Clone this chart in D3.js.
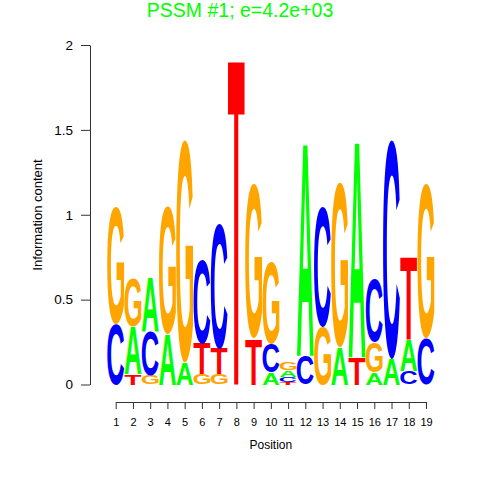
<!DOCTYPE html>
<meta charset="utf-8">
<head>
    <script src="https://d3js.org/d3.v7.min.js"></script>  <!-- D3 -->
    <style>
        body { margin: 0; background: #fff; }
    </style>
</head>
<body>
    <div id="graph"></div>
</body>

<script>
    // data: information content of each base at each position
    var positions = [1,2,3,4,5,6,7,8,9,10,11,12,13,14,15,16,17,18,19];
    var bases = ["A", "C", "G", "T"];
    var heightA = [0, 0.28, 0.32, 0.30, 0.13, 0, 0, 0, 0, 0.07, 0.04, 1.26, 0, 0.22, 1.28, 0.07, 0.15, 0.18, 0];
    var heightC = [0.36, 0, 0.26, 0, 0, 0.50, 0.74, 0, 0, 0.17, 0.03, 0.17, 0.71, 0, 0, 0.37, 1.29, 0.08, 0.27];
    var heightG = [0.69, 0.29, 0.05, 0.75, 1.31, 0.06, 0.06, 0, 0.91, 0.48, 0.045, 0, 0.34, 0.97, 0, 0.18, 0, 0, 0.91];
    var heightT = [0, 0.06, 0, 0, 0, 0.18, 0.15, 1.93, 0.27, 0, 0.015, 0, 0, 0, 0.16, 0, 0, 0.49, 0];
    var yTicks = [0, 0.5, 1, 1.5, 2];
    var yTickLabels = ["0", "0.5", "1", "1.5", "2"];

    var colors = {A: "#00ff00", C: "#0000ff", G: "#ffa500", T: "#ff0000"};
    var heights = {A: heightA, C: heightC, G: heightG, T: heightT};
    var fontFamily = '"Liberation Sans", Arial, sans-serif';

    var svg = d3.select("#graph")
      .append("svg")
        .attr("width", 480)
        .attr("height", 480);

    // scales
    var x = d3.scaleLinear()
            .domain([1, 19])
            .range([115.7, 426]);
    var step = x(2) - x(1);
    var y = d3.scaleLinear()
            .domain([0, 2])
            .range([384.5, 45]);

    // title
    svg.append("text")
        .attr("x", 240)
        .attr("y", 17)
        .attr("text-anchor", "middle")
        .style("font", "19.5px " + fontFamily)
        .style("fill", "#00ff00")
        .text("PSSM #1; e=4.2e+03");

    // Y axis
    svg.append("g")
        .attr("transform", "translate(90,0)")
        .call(d3.axisLeft(y).tickValues(yTicks)
            .tickFormat(function(d, i) { return yTickLabels[i]; })
            .tickSize(9).tickPadding(8).tickSizeOuter(0))
        .call(function(g) {
            g.select(".domain").attr("stroke", "#333");
            g.selectAll(".tick line").attr("stroke", "#333");
            g.selectAll(".tick text").style("font", "13.5px " + fontFamily);
        });

    svg.append("text")
        .attr("transform", "rotate(-90)")
        .attr("x", -215)
        .attr("y", 42)
        .attr("text-anchor", "middle")
        .style("font", "13px " + fontFamily)
        .text("Information content");

    // X axis
    svg.append("g")
        .attr("transform", "translate(0,402)")
        .call(d3.axisBottom(x).tickValues(positions)
            .tickFormat(d3.format("d"))
            .tickSize(7).tickPadding(9).tickSizeOuter(0))
        .call(function(g) {
            g.select(".domain").attr("stroke", "#333");
            g.selectAll(".tick line").attr("stroke", "#333");
            g.selectAll(".tick text").style("font", "11px " + fontFamily);
        });

    svg.append("text")
        .attr("x", x(10))
        .attr("y", 449)
        .attr("text-anchor", "middle")
        .style("font", "12px " + fontFamily)
        .text("Position");

    // measure the ink box of each glyph so it can be stretched to fit
    var ctx = document.createElement("canvas").getContext("2d");
    var fontSize = 100;
    ctx.font = "bold " + fontSize + "px " + fontFamily;
    var glyph = {};
    bases.forEach(function(b) {
        var m = ctx.measureText(b);
        glyph[b] = {
            left: m.actualBoundingBoxLeft,
            w: m.actualBoundingBoxLeft + m.actualBoundingBoxRight,
            asc: m.actualBoundingBoxAscent,
            h: m.actualBoundingBoxAscent + m.actualBoundingBoxDescent
        };
    });

    // build stacked letters, smallest at bottom
    var letters = [];
    positions.forEach(function(p, i) {
        var col = bases.map(function(b) { return {base: b, h: heights[b][i]}; })
            .filter(function(d) { return d.h > 0; })
            .sort(function(a, b) { return a.h - b.h; });
        var acc = 0;
        col.forEach(function(d) {
            letters.push({pos: p, base: d.base, y0: acc, y1: acc + d.h});
            acc += d.h;
        });
    });

    svg.append("g")
        .selectAll("text")
        .data(letters)
        .enter()
        .append("text")
        .attr("x", 0)
        .attr("y", 0)
        .style("font", "bold " + fontSize + "px " + fontFamily)
        .style("fill", function(d) { return colors[d.base]; })
        .attr("transform", function(d) {
            var g = glyph[d.base];
            var w = step * 0.98;
            var top = y(d.y1), bottom = y(d.y0);
            var sx = w / g.w, sy = (bottom - top) / g.h;
            return "translate(" + (x(d.pos) - w / 2) + "," + top + ") scale(" + sx + "," + sy + ") translate(" + g.left + "," + g.asc + ")";
        })
        .text(function(d) { return d.base; });
</script>
